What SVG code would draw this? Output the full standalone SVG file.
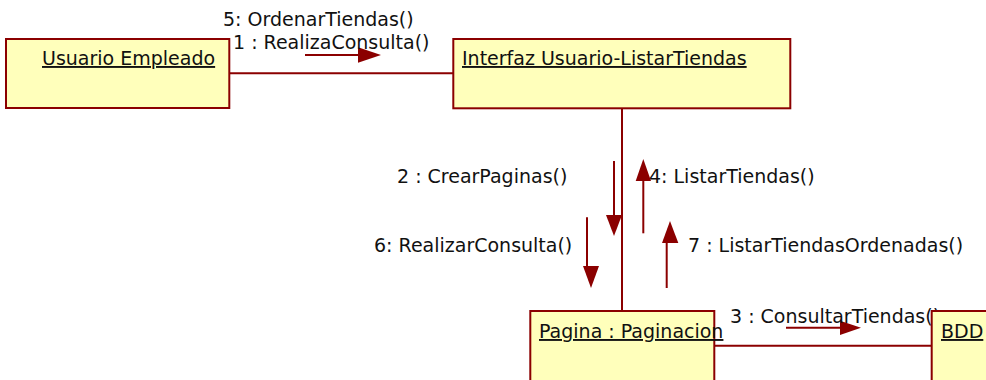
<svg xmlns="http://www.w3.org/2000/svg" width="986" height="380" viewBox="0 0 986 380">
<style>
.box{fill:#FFFFBB;stroke:#8B0000;stroke-width:2}
.ln{stroke:#8B0000;stroke-width:2;fill:none}
.hd{fill:#8B0000;stroke:none}
text{font-family:"DejaVu Sans","Liberation Sans",sans-serif;font-size:19px;fill:#111}
.u{text-decoration:underline}
</style>
<rect width="986" height="380" fill="#fff"/>
<g id="connectors">
<line class="ln" x1="230" y1="73.3" x2="453" y2="73.3"/>
<line class="ln" x1="622" y1="108" x2="622" y2="311"/>
<line class="ln" x1="714" y1="345.7" x2="932" y2="345.7"/>
</g>
<g id="messages">
<line class="ln" x1="305" y1="55" x2="360" y2="55"/>
<polygon class="hd" points="358,47.3 381,55 358,62.7"/>
<line class="ln" x1="614" y1="161" x2="614" y2="216"/>
<polygon class="hd" points="606,215 622,215 614,236"/>
<line class="ln" x1="643.3" y1="180" x2="643.3" y2="233.3"/>
<polygon class="hd" points="635.7,181 651,181 643.3,159"/>
<line class="ln" x1="587" y1="217.3" x2="587" y2="267"/>
<polygon class="hd" points="583,266 599,266 591,288"/>
<line class="ln" x1="666.7" y1="288" x2="666.7" y2="242"/>
<polygon class="hd" points="662,243 678.3,243 670,221"/>
<line class="ln" x1="786" y1="327.7" x2="841" y2="327.7"/>
<polygon class="hd" points="840,320.7 861,327.8 840,335"/>
<text x="223" y="25.5">5: OrdenarTiendas()</text>
<text x="233" y="48.5">1 : RealizaConsulta()</text>
<text x="397" y="183">2 : CrearPaginas()</text>
<text x="649" y="183">4: ListarTiendas()</text>
<text x="374" y="252">6: RealizarConsulta()</text>
<text x="688" y="252">7 : ListarTiendasOrdenadas()</text>
<text x="730" y="323">3 : ConsultarTiendas()</text>
</g>
<g id="usuario">
<rect class="box" x="6" y="39" width="223.3" height="69"/>
<text class="u" x="42" y="65">Usuario Empleado</text>
</g>
<g id="interfaz">
<rect class="box" x="453.3" y="39" width="337" height="69.3"/>
<text class="u" x="462" y="65">Interfaz Usuario-ListarTiendas</text>
</g>
<g id="pagina">
<rect class="box" x="530.3" y="311" width="184" height="80"/>
<text class="u" x="539" y="338">Pagina : Paginacion</text>
</g>
<g id="bdd">
<rect class="box" x="931.7" y="311" width="80" height="80"/>
<text class="u" x="941" y="338">BDD</text>
</g>
</svg>
